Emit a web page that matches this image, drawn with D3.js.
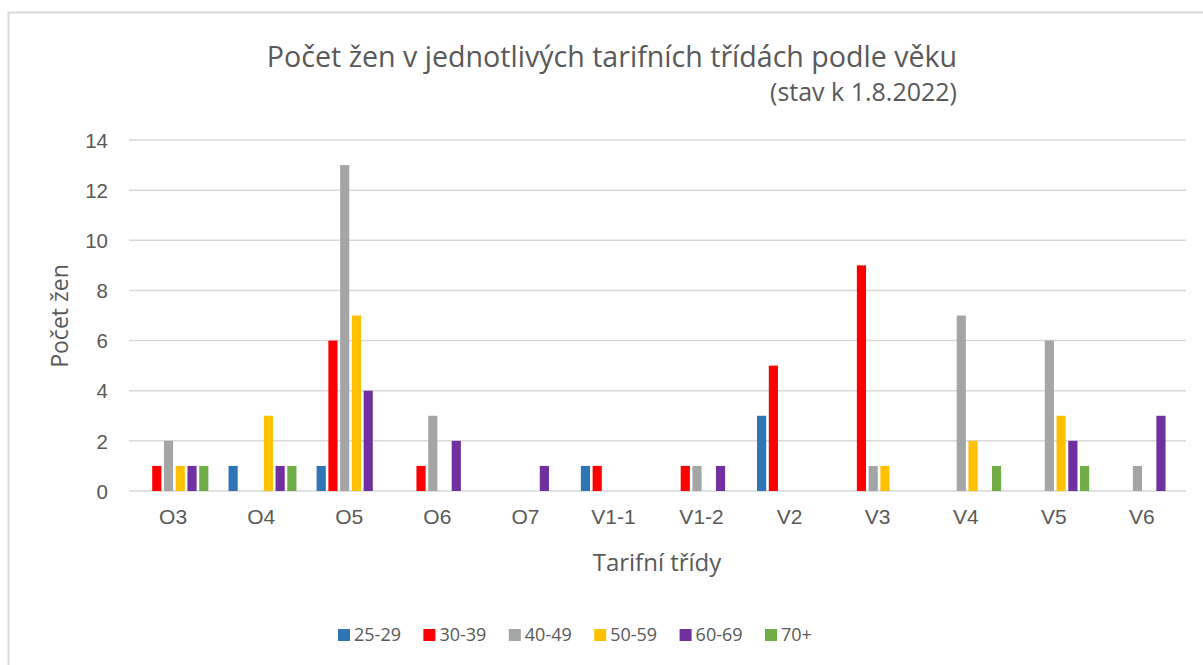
<!DOCTYPE html>
<html>
<head>
<meta charset="utf-8">
<script src="https://cdn.jsdelivr.net/npm/d3@7"></script>
<style>
  body { margin: 0; background: #fff; }
  svg { font-family: "Open Sans", "Noto Sans", sans-serif; }
</style>
</head>
<body>
<div id="chart"></div>
<script>
const categories = ['O3', 'O4', 'O5', 'O6', 'O7', 'V1-1', 'V1-2', 'V2', 'V3', 'V4', 'V5', 'V6']
const ageGroups = ['25-29', '30-39', '40-49', '50-59', '60-69', '70+']
const colors = ['#2e75b6', '#ff0000', '#a5a5a5', '#ffc000', '#7030a0', '#70ad47']

// one array per age group, in category order
const v25_29 = [0, 1, 1, 0, 0, 1, 0, 3, 0, 0, 0, 0]
const v30_39 = [1, 0, 6, 1, 0, 1, 1, 5, 9, 0, 0, 0]
const v40_49 = [2, 0, 13, 3, 0, 0, 1, 0, 1, 7, 6, 1]
const v50_59 = [1, 3, 7, 0, 0, 0, 0, 0, 1, 2, 3, 0]
const v60_69 = [1, 1, 4, 2, 1, 0, 1, 0, 0, 0, 2, 3]
const v70 = [1, 1, 0, 0, 0, 0, 0, 0, 0, 1, 1, 0]
const series = [v25_29, v30_39, v40_49, v50_59, v60_69, v70]

const yTicks = [0, 2, 4, 6, 8, 10, 12, 14]

const W = 1203, H = 665
const margin = {top: 140, left: 129, right: 17, bottom: 174}
const innerW = W - margin.left - margin.right
const innerH = H - margin.top - margin.bottom
const textColor = '#595959'

const svg = d3.select('#chart').append('svg')
  .attr('width', W)
  .attr('height', H)

// chart frame (continues past the right and bottom edge)
svg.append('rect')
  .attr('x', 8.5).attr('y', 12.5)
  .attr('width', W + 20).attr('height', H + 20)
  .style('fill', '#fff')
  .style('stroke', '#d9d9d9')
  .style('stroke-width', 2)

const x0 = d3.scaleBand().domain(categories).range([0, innerW])
const x1 = d3.scaleBand().domain(ageGroups)
  .range([x0.bandwidth() * 0.13, x0.bandwidth() * 0.901])
  .paddingInner(0.22)
const y = d3.scaleLinear().domain([0, 14]).range([innerH, 0])

const pad = svg.append('g').attr('transform', `translate(${margin.left},${margin.top})`)

// gridlines
pad.append('g')
  .selectAll('line')
  .data(yTicks)
  .enter().append('line')
  .attr('x1', 0).attr('x2', innerW)
  .attr('y1', d => y(d)).attr('y2', d => y(d))
  .style('stroke', '#d9d9d9')
  .style('stroke-width', 1.5)

// y axis labels
const yAxis = d3.axisLeft(y).tickValues(yTicks).tickSize(0).tickPadding(21)
pad.append('g')
  .call(yAxis)
  .call(g => g.select('.domain').remove())
  .call(g => g.selectAll('text').style('font-size', '20.5px').style('fill', textColor).attr('dy', '0.35em'))

// x axis labels
const xAxis = d3.axisBottom(x0).tickSize(0).tickPadding(18)
pad.append('g')
  .attr('transform', `translate(0,${innerH})`)
  .call(xAxis)
  .call(g => g.select('.domain').remove())
  .call(g => g.selectAll('text').style('font-size', '21px').style('fill', textColor))

// bars
const groups = pad.append('g')
  .selectAll('g')
  .data(categories)
  .enter().append('g')
  .attr('transform', d => `translate(${x0(d)},0)`)

groups.selectAll('rect')
  .data((d, i) => series.map((s, k) => ({age: ageGroups[k], value: s[i], color: colors[k]})))
  .enter().append('rect')
  .filter(d => d.value > 0)
  .attr('x', d => x1(d.age))
  .attr('width', x1.bandwidth())
  .attr('y', d => y(d.value))
  .attr('height', d => innerH - y(d.value))
  .style('fill', d => d.color)

// titles
svg.append('text')
  .attr('x', 612).attr('y', 67)
  .attr('text-anchor', 'middle')
  .style('font-size', '28.6px')
  .style('fill', textColor)
  .text('Počet žen v jednotlivých tarifních třídách podle věku')

svg.append('text')
  .attr('x', 957).attr('y', 101)
  .attr('text-anchor', 'end')
  .style('font-size', '25px')
  .style('fill', textColor)
  .text('(stav k 1.8.2022)')

svg.append('text')
  .attr('transform', 'translate(68,316) rotate(-90)')
  .attr('text-anchor', 'middle')
  .style('font-size', '23px')
  .style('fill', textColor)
  .text('Počet žen')

svg.append('text')
  .attr('x', 657).attr('y', 571)
  .attr('text-anchor', 'middle')
  .style('font-size', '24px')
  .style('fill', textColor)
  .text('Tarifní třídy')

// legend
const legendX = d3.scalePoint().domain(ageGroups).range([338, 765])
const legend = svg.append('g')
  .selectAll('g')
  .data(ageGroups)
  .enter().append('g')
  .attr('transform', d => `translate(${legendX(d)},629)`)

legend.append('rect')
  .attr('width', 12).attr('height', 12)
  .style('fill', (d, i) => colors[i])

legend.append('text')
  .attr('x', 16).attr('y', 6)
  .attr('dy', '0.35em')
  .style('font-size', '18px')
  .style('fill', textColor)
  .text(d => d)
</script>
</body>
</html>
